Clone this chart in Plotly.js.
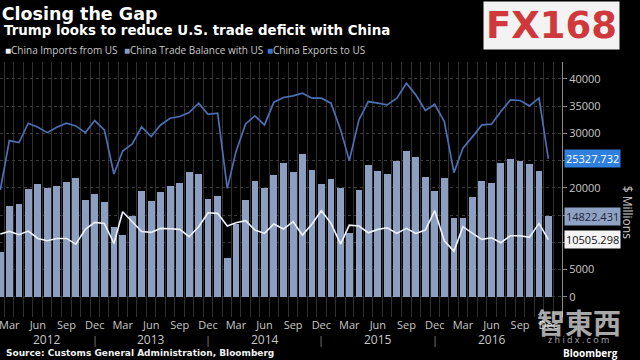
<!DOCTYPE html>
<html>
<head>
<meta charset="utf-8">
<script src="https://cdn.plot.ly/plotly-3.0.1.min.js"></script>
<style>html,body{margin:0;padding:0;background:#000;}#chart{width:640px;height:360px;}</style>
</head>
<body>
<div id="chart"></div>
<script>
// Monthly data, Feb 2012 .. Dec 2016 ($ millions)
const months = ["2012-02","2012-03","2012-04","2012-05","2012-06","2012-07","2012-08","2012-09","2012-10","2012-11","2012-12",
"2013-01","2013-02","2013-03","2013-04","2013-05","2013-06","2013-07","2013-08","2013-09","2013-10","2013-11","2013-12",
"2014-01","2014-02","2014-03","2014-04","2014-05","2014-06","2014-07","2014-08","2014-09","2014-10","2014-11","2014-12",
"2015-01","2015-02","2015-03","2015-04","2015-05","2015-06","2015-07","2015-08","2015-09","2015-10","2015-11","2015-12",
"2016-01","2016-02","2016-03","2016-04","2016-05","2016-06","2016-07","2016-08","2016-09","2016-10","2016-11","2016-12"];
const exportsToUS = [19600,28670,28310,31860,31130,30140,31130,31860,31370,30140,32350,
30640,22550,26770,28060,31200,29410,31550,32780,33090,33820,35540,33510,
33700,19910,26650,31740,33210,31550,35720,36580,36880,37370,36460,36460,
35540,30640,25000,32470,35840,35540,35230,36460,39210,37070,34200,35350,
32170,22790,27270,29410,31550,31680,34000,36150,36030,35050,36460,25327.732];
const importsFromUS = [11520,12010,11400,12070,10720,10290,10720,10720,9680,12380,13660,
13480,9800,15620,13790,12000,11830,12560,12500,12380,11030,12870,15440,
15320,12990,13600,13970,12250,11640,13360,12440,13790,11330,13360,15810,
13480,9680,13170,12990,11760,12380,12680,11640,12560,11640,12250,15810,
10290,8390,12870,11640,10540,10840,9930,11210,11210,10910,13480,10505.298];
const tradeBalance = [8270,16670,17030,19790,20770,20040,20400,21140,21750,17830,18810,
17340,12740,11270,14770,19450,17650,19180,20400,20950,22910,22490,17890,
18560,7110,13300,17710,21200,20040,22300,24510,22910,26280,23220,20770,
21630,20040,11760,19670,24260,23040,22490,24940,26710,25610,21930,19480,
21870,14520,14520,18260,21260,20830,24510,25300,25000,24320,23100,14822.431];
const monthNames = ["Jan","Feb","Mar","Apr","May","Jun","Jul","Aug","Sep","Oct","Nov","Dec"];
const tickMonths = ["Mar","Jun","Sep","Dec"];
const yearLabels = ["2012","2013","2014","2015","2016"];
const yearLabelDates = ["2012-07","2013-06","2014-06","2015-06","2016-06"];
const yearSeparators = ["2012-12","2013-12","2014-12","2015-12"];
const yTickVals = [0,5000,10000,15000,20000,25000,30000,35000,40000];
const yTickText = ["0","5000","","","20000","","30000","35000","40000"]; // 10000/15000/25000 hidden behind value badges
const seriesNames = ["China Imports from US","China Trade Balance with US","China Exports to US"];

const C_BAR = "#8c9fc1", C_EXP = "#4d6fb4", C_IMP = "#eef2fa";
const xDates = months.map(m => m + "-01");
const tickvals = [], ticktext = [];
months.forEach(m => {
  const name = monthNames[parseInt(m.slice(5), 10) - 1];
  if (tickMonths.includes(name)) { tickvals.push(m + "-01"); ticktext.push(name); }
});
const DAY = 86400000;
const FONT = "Open Sans, Noto Sans, sans-serif";
const BOLD = "DejaVu Sans, sans-serif";

const traces = [
  {type: "bar", x: xDates, y: tradeBalance, name: seriesNames[1], width: 0.72 * 30.44 * DAY,
   marker: {color: C_BAR, line: {width: 0}}, showlegend: false, hoverinfo: "skip"},
  {type: "scatter", mode: "lines", x: xDates, y: exportsToUS, name: seriesNames[2],
   line: {color: C_EXP, width: 1.7}, showlegend: false, hoverinfo: "skip"},
  {type: "scatter", mode: "lines", x: xDates, y: importsFromUS, name: seriesNames[0],
   line: {color: C_IMP, width: 1.6}, showlegend: false, hoverinfo: "skip"}
];

const last = months.length - 1;
const fmt = v => v.toFixed(3);
const annotations = [
  {xref: "paper", yref: "paper", x: 0.003, y: 1.1216, xanchor: "left", yanchor: "middle", showarrow: false,
   text: "<b>Trump looks to reduce U.S. trade deficit with China</b>", font: {family: BOLD, size: 13.4, color: "#ffffff"}},
  // legend
  {xref: "paper", yref: "paper", x: 0.006, y: 1.047, xanchor: "left", yanchor: "middle", showarrow: false,
   text: '<span style="color:' + C_IMP + '">■</span>' + seriesNames[0], font: {family: FONT, size: 10, color: "#c8c8c8"}},
  {xref: "paper", yref: "paper", x: 0.217, y: 1.047, xanchor: "left", yanchor: "middle", showarrow: false,
   text: '<span style="color:' + C_BAR + '">■</span>' + seriesNames[1], font: {family: FONT, size: 10, color: "#c8c8c8"}},
  {xref: "paper", yref: "paper", x: 0.471, y: 1.047, xanchor: "left", yanchor: "middle", showarrow: false,
   text: '<span style="color:#3f74d0">■</span>' + seriesNames[2], font: {family: FONT, size: 10, color: "#c8c8c8"}},
  // value badges
  {xref: "paper", yref: "y", x: 1.004, y: exportsToUS[last], xanchor: "left", yanchor: "middle", showarrow: false,
   text: fmt(exportsToUS[last]), bgcolor: "#2f80dc", borderpad: 1, font: {family: FONT, size: 11, color: "#ffffff"}},
  {xref: "paper", yref: "y", x: 1.004, y: tradeBalance[last], xanchor: "left", yanchor: "middle", showarrow: false,
   text: fmt(tradeBalance[last]), bgcolor: "#8fa2c3", borderpad: 1, font: {family: FONT, size: 11, color: "#1b2640"}},
  {xref: "paper", yref: "y", x: 1.004, y: importsFromUS[last], xanchor: "left", yanchor: "middle", showarrow: false,
   text: fmt(importsFromUS[last]), bgcolor: "#f4f4f4", borderpad: 1, font: {family: FONT, size: 11, color: "#111111"}},
  // axis title
  {xref: "paper", yref: "paper", x: 1.117, y: 0.41, xanchor: "center", yanchor: "middle", showarrow: false, textangle: 90,
   text: "$ Millions", font: {family: FONT, size: 12, color: "#c8c8c8"}},
  // source
  {xref: "paper", yref: "paper", x: 0.008, y: -0.141, xanchor: "left", yanchor: "middle", showarrow: false,
   text: "<b>Source: Customs General Administration, Bloomberg</b>", font: {family: BOLD, size: 9, color: "#f0f0f0"}},
  {xref: "paper", yref: "paper", x: 1.103, y: -0.14, xanchor: "right", yanchor: "middle", showarrow: false,
   text: "<b>Bloomberg</b>", font: {family: FONT, size: 10, color: "#ffffff"}},
  // watermarks
  {xref: "paper", yref: "paper", x: 1.03, y: -0.02, xanchor: "center", yanchor: "middle", showarrow: false,
   text: "<b>智東西</b>", font: {family: "Noto Sans CJK TC", size: 28, color: "rgba(235,235,235,0.72)"}},
  {xref: "paper", yref: "paper", x: 1.03, y: -0.088, xanchor: "center", yanchor: "middle", showarrow: false,
   text: "z h i d x . c o m", font: {family: FONT, size: 9, color: "rgba(235,235,235,0.72)"}},
  {xref: "paper", yref: "paper", x: 0.982, y: 1.145, xanchor: "center", yanchor: "middle", showarrow: false,
   text: "<b>FX168</b>", bgcolor: "#f3f3f3", borderpad: 2, font: {family: BOLD, size: 37, color: "#d0393b"}}
];
yearLabels.forEach((t, i) => annotations.push({xref: "x", yref: "paper", x: yearLabelDates[i] + "-01", y: -0.088,
  xanchor: "center", yanchor: "middle", showarrow: false, text: t, font: {family: FONT, size: 12, color: "#c8c8c8"}}));
yearSeparators.forEach(d => annotations.push({xref: "x", yref: "paper", x: d + "-01", y: -0.088,
  xanchor: "center", yanchor: "middle", showarrow: false, text: "|", font: {family: FONT, size: 11, color: "#888"}}));

const layout = {
  width: 640, height: 360,
  paper_bgcolor: "#000", plot_bgcolor: "#000",
  margin: {l: 0, r: 78, t: 62, b: 43},
  title: {text: "<b>Closing the Gap</b>", x: 0.003, xanchor: "left", xref: "paper", y: 0.961, yanchor: "middle",
          font: {family: BOLD, size: 17.5, color: "#ffffff"}},
  showlegend: false,
  bargap: 0,
  xaxis: {type: "date", range: ["2012-01-31", "2017-01-14"], tickmode: "array", tickvals: tickvals, ticktext: ticktext,
          ticklabeloverflow: "allow", showgrid: false, ticks: "", tickfont: {family: FONT, size: 11, color: "#c8c8c8"},
          showline: false, zeroline: false,
          minor: {dtick: "M1", tick0: "2012-01-16", showgrid: true, gridcolor: "#303030", gridwidth: 1}},
  yaxis: {side: "right", range: [-3700, 43100], tickmode: "array", tickvals: yTickVals, ticktext: yTickText,
          showgrid: true, gridcolor: "#3a3a3a", griddash: "dot",
          zeroline: false, showline: true, linecolor: "#8a8a8a", ticks: "outside", ticklen: 4, tickcolor: "#8a8a8a",
          tickfont: {family: FONT, size: 11, color: "#c8c8c8"}},
  annotations: annotations
};
Plotly.newPlot("chart", traces, layout, {displayModeBar: false, staticPlot: true});
</script>
</body>
</html>
